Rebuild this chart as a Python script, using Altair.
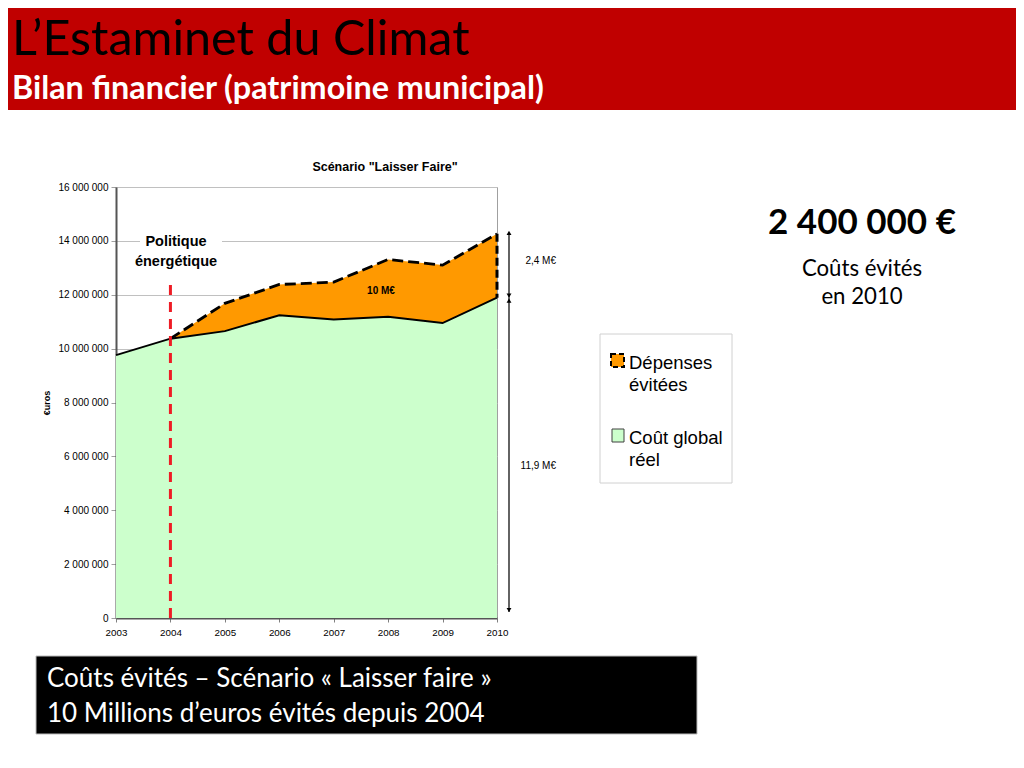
import altair as alt
import pandas as pd

# ---- data ----
years = [2003, 2004, 2005, 2006, 2007, 2008, 2009, 2010]
cout_global_reel = [9.76e6, 10.37e6, 10.65e6, 11.24e6, 11.08e6, 11.18e6, 10.95e6, 11.89e6]
scenario_laisser_faire = [None, 10.37e6, 11.68e6, 12.38e6, 12.47e6, 13.31e6, 13.10e6, 14.26e6]
y_ticks = [0, 2e6, 4e6, 6e6, 8e6, 10e6, 12e6, 14e6, 16e6]
politique_year = 2004
politique_line_top = 12.6e6

df = pd.DataFrame({"year": years, "reel": cout_global_reel, "laisser": scenario_laisser_faire})
df_av = df.dropna().reset_index(drop=True)
df_last = df.tail(1).reset_index(drop=True)
df_pol = pd.DataFrame({"year": [politique_year], "y0": [0.0], "y1": [politique_line_top]})
one = pd.DataFrame({"k": [0]})

W, H = 381, 431
PAD_L, PAD_T = 108, 179
TOTAL_W, TOTAL_H = 1008, 752

xs = alt.Scale(domain=[2003, 2010], nice=False, zero=False)
ys = alt.Scale(domain=[0, 16e6], nice=False)

X = alt.X("year:Q", scale=xs, axis=alt.Axis(values=years, format="d", title=None, grid=False,
                                              tickSize=4, labelFontSize=9.8, labelPadding=5,
                                              domainColor="#555555", domainWidth=2, tickColor="#808080",
                                              labelColor="black", labelFont="Liberation Sans", labelFlush=False))
Y_AX = alt.Axis(values=y_ticks, title=None, grid=True, gridColor="#c0c0c0", gridWidth=1,
                tickSize=5, labelFontSize=10, labelPadding=3, domainColor="#555555", domainWidth=2,
                tickColor="#a0a0a0", labelColor="black", labelFont="Liberation Sans",
                labelExpr="replace(format(datum.value, ','), /,/g, ' ')")


def rect(x, x2, y, y2, fill, stroke=None, sw=0, dash=None):
    kw = dict(fill=fill, strokeWidth=sw)
    if stroke:
        kw["stroke"] = stroke
    if dash:
        kw["strokeDash"] = dash
    return alt.Chart(one).mark_rect(**kw).encode(x=alt.value(x), x2=alt.value(x2),
                                                    y=alt.value(y), y2=alt.value(y2))


def txt(s, x, y, size, font="Liberation Sans", weight="normal", color="black",
        align="left", baseline="alphabetic", angle=0):
    return alt.Chart(one).mark_text(text=s, font=font, fontSize=size, fontWeight=weight, color=color,
                                    align=align, baseline=baseline, angle=angle).encode(
        x=alt.value(x), y=alt.value(y))


# page -> chart coords : cx = px - 116, cy = py - 187
layers = []

# header band & titles
layers.append(rect(-PAD_L, TOTAL_W - PAD_L, -PAD_T, -77, "#C00000"))
layers.append(txt("L\u2019Estaminet du Climat", -104, -132, 48.5, font="Lato", color="black"))
layers.append(txt("Bilan financier (patrimoine municipal)", -104, -88, 32.3, font="Lato", weight="bold", color="white"))

# areas
layers.append(alt.Chart(df).mark_area(color="#CCFFCC", opacity=1).encode(
    x=X, y=alt.Y("reel:Q", scale=ys, axis=Y_AX)))
layers.append(alt.Chart(df_av).mark_area(color="#FF9900", opacity=1).encode(
    x="year:Q", y="laisser:Q", y2="reel:Q"))
layers.append(alt.Chart(df).mark_line(color="black", strokeWidth=2).encode(x="year:Q", y="reel:Q"))
layers.append(alt.Chart(df_av).mark_line(color="black", strokeWidth=2.8, strokeDash=[11, 5]).encode(
    x="year:Q", y="laisser:Q"))
layers.append(alt.Chart(df_last).mark_rule(color="black", strokeWidth=3, strokeDash=[8, 4]).encode(
    x="year:Q", y="laisser:Q", y2="reel:Q"))

# politique energetique
layers.append(alt.Chart(df_pol).mark_rule(color="#EE1C25", strokeWidth=3, strokeDash=[10, 7]).encode(
    x="year:Q", y="y0:Q", y2="y1:Q"))
layers.append(rect(24, 106, 43, 85, "white"))
layers.append(txt("Politique", 60, 59, 14.5, weight="bold", align="center"))
layers.append(txt("\u00e9nerg\u00e9tique", 60, 79, 14.5, weight="bold", align="center"))
layers.append(txt("10 M\u20ac", 265, 107, 10, weight="bold", align="center"))

# arrows on the right
AX = 393
layers.append(alt.Chart(df_last).mark_rule(color="#222222", strokeWidth=1.4).encode(
    x=alt.value(AX), y="laisser:Q", y2="reel:Q"))
layers.append(alt.Chart(df_last).mark_point(shape="triangle-up", filled=True, size=24, color="black", opacity=1,
                                            yOffset=-1).encode(x=alt.value(AX), y="laisser:Q"))
layers.append(alt.Chart(df_last).mark_point(shape="triangle-down", filled=True, size=24, color="black", opacity=1,
                                            yOffset=-2).encode(x=alt.value(AX), y="reel:Q"))
layers.append(alt.Chart(df_last).mark_rule(color="#222222", strokeWidth=1.4).encode(
    x=alt.value(AX), y="reel:Q", y2=alt.value(H - 6)))
layers.append(alt.Chart(df_last).mark_point(shape="triangle-up", filled=True, size=24, color="black", opacity=1,
                                            yOffset=3).encode(x=alt.value(AX), y="reel:Q"))
layers.append(alt.Chart(one).mark_point(shape="triangle-down", filled=True, size=24, color="black", opacity=1).encode(
    x=alt.value(AX), y=alt.value(H - 8)))
layers.append(txt("2,4 M\u20ac", 440, 74, 10, align="right", baseline="middle"))
layers.append(txt("11,9 M\u20ac", 440, 279, 10, align="right", baseline="middle"))

# chart title and y title
layers.append(txt("Sc\u00e9nario \"Laisser Faire\"", 269, -20, 12.5, weight="bold", align="center", baseline="middle"))
layers.append(txt("\u20acuros", -69, 216, 9, weight="bold", align="center", baseline="middle", angle=270))

# custom legend
layers.append(rect(484, 616, 147, 296, "white", stroke="#d0d0d0", sw=1))
layers.append(rect(495, 508, 167, 180, "#FF9900", stroke="black", sw=2, dash=[5, 3]))
layers.append(rect(496, 508, 242, 255, "#CCFFCC", stroke="#404040", sw=1))
layers.append(txt("D\u00e9penses", 513, 182, 18.5))
layers.append(txt("\u00e9vit\u00e9es", 513, 204, 18.5))
layers.append(txt("Co\u00fbt global", 513, 257, 18.5))
layers.append(txt("r\u00e9el", 513, 279, 18.5))

# big figure on the right
layers.append(txt("2 400 000 \u20ac", 746, 47, 35, font="Lato", weight="bold", align="center"))
layers.append(txt("Co\u00fbts \u00e9vit\u00e9s", 746, 89, 22.2, font="Lato", align="center"))
layers.append(txt("en 2010", 746, 117, 22.2, font="Lato", align="center"))

# black caption box
layers.append(rect(-80, 581, 469, 547, "black", stroke="#bbbbbb", sw=1))
layers.append(txt("Co\u00fbts \u00e9vit\u00e9s \u2013 Sc\u00e9nario \u00ab Laisser faire \u00bb", -69, 500, 26, font="Lato", color="white"))
layers.append(txt("10 Millions d\u2019euros \u00e9vit\u00e9s depuis 2004", -69, 535, 26, font="Lato", color="white"))

chart = alt.layer(*layers).properties(
    width=W, height=H,
    padding={"left": PAD_L, "top": PAD_T, "right": TOTAL_W - PAD_L - W, "bottom": TOTAL_H - PAD_T - H},
    autosize=alt.AutoSizeParams(type="none"),
    background="white",
).configure_view(stroke="#a0a0a0", strokeWidth=1)

chart.save("out.html", embed_options={"renderer": "svg", "actions": False})
